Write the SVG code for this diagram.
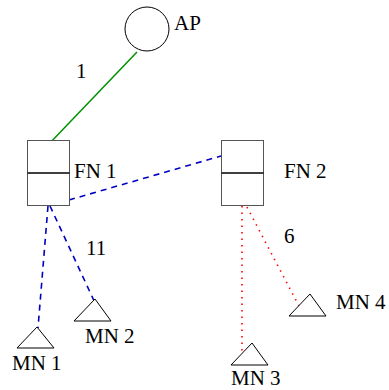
<svg xmlns="http://www.w3.org/2000/svg" width="389" height="390" viewBox="0 0 389 390">
<style>
text{font-family:"Liberation Serif","Times New Roman","DejaVu Serif",serif;font-size:21px;fill:#000}
.box{fill:#fff;stroke:#555;stroke-width:1}
.tri{fill:#fff;stroke:#000;stroke-width:1}
.blue{stroke:#0000c0;stroke-width:1.6;stroke-dasharray:6,5;fill:none}
.red{stroke:#ff0000;stroke-width:1.6;stroke-dasharray:1.5,5;fill:none}
</style>
<rect width="389" height="390" fill="#fff"/>
<g id="connectors">
<line x1="137" y1="52" x2="48" y2="145" stroke="#009000" stroke-width="1.5"/>
<line class="blue" x1="69" y1="200" x2="221" y2="156"/>
<line class="blue" x1="48" y1="206" x2="38" y2="328"/>
<line class="blue" x1="50" y1="206" x2="96" y2="305"/>
<line class="red" x1="242" y1="206" x2="242" y2="352"/>
<line class="red" x1="247" y1="207" x2="299" y2="306"/>
<text x="76" y="78">1</text>
<text x="86" y="255">11</text>
<text x="284" y="243">6</text>
</g>
<g id="AP">
<circle cx="147" cy="29" r="22" fill="none" stroke="#000" stroke-width="1"/>
<text x="174" y="30">AP</text>
</g>
<g id="FN1">
<rect class="box" x="27.5" y="140.5" width="42" height="65"/>
<line x1="27.5" y1="173" x2="69.5" y2="173" stroke="#000" stroke-width="1.5"/>
<text x="74" y="178">FN 1</text>
</g>
<g id="FN2">
<rect class="box" x="221.5" y="140.5" width="42" height="65"/>
<line x1="221.5" y1="173" x2="263.5" y2="173" stroke="#000" stroke-width="1.5"/>
<text x="284" y="178">FN 2</text>
</g>
<g id="MN1">
<polygon class="tri" points="37,327 54,348 17,348"/>
<text x="12" y="370">MN 1</text>
</g>
<g id="MN2">
<polygon class="tri" points="95,299 111,321 74,321"/>
<text x="85" y="343">MN 2</text>
</g>
<g id="MN3">
<polygon class="tri" points="252,343 268,365 231,365"/>
<text x="231" y="385">MN 3</text>
</g>
<g id="MN4">
<polygon class="tri" points="310,294 326,316 289,316"/>
<text x="336" y="309">MN 4</text>
</g>
</svg>
